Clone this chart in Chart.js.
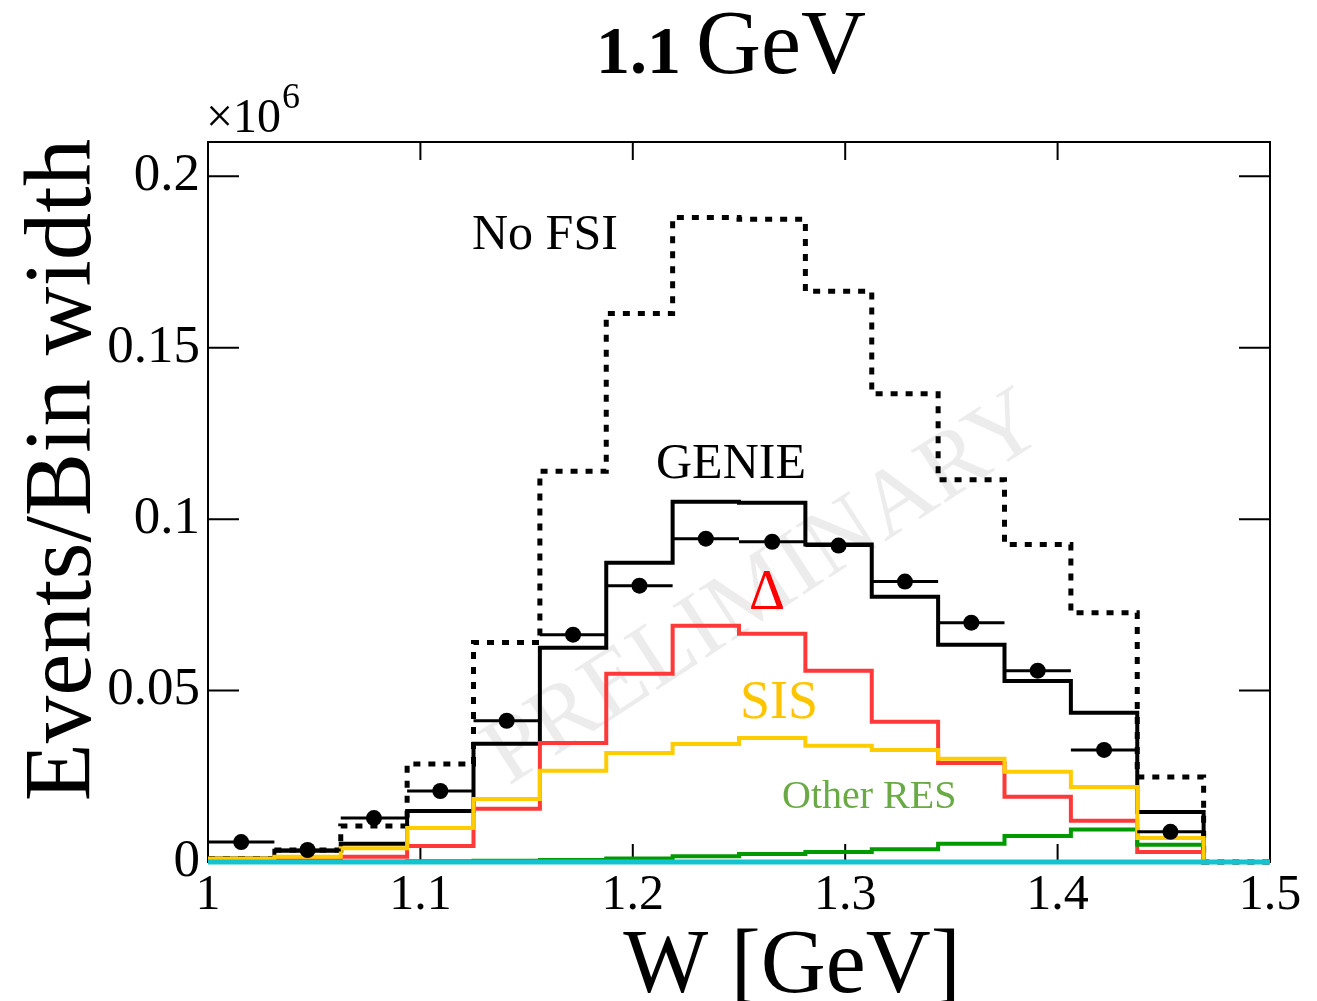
<!DOCTYPE html>
<html>
<head>
<meta charset="utf-8">
<title>W distribution, 1.1 GeV</title>
<script src="https://cdn.jsdelivr.net/npm/chart.js@4.4.1/dist/chart.umd.min.js"></script>
<style>
  html, body { margin: 0; padding: 0; background: #fff; }
  #wrap { width: 1317px; height: 1001px; }
</style>
</head>
<body>
<div id="wrap"><canvas id="wChart" width="1317" height="1001"></canvas></div>
<script>
// Bin edges, W [GeV]
const binEdges = [1.0, 1.03125, 1.0625, 1.09375, 1.125, 1.15625, 1.1875, 1.21875, 1.25,
  1.28125, 1.3125, 1.34375, 1.375, 1.40625, 1.4375, 1.46875, 1.5];

// Events / bin width (x10^6), one value per bin
const noFsi    = [0.001, 0.0035, 0.0105, 0.0286, 0.064, 0.114, 0.160, 0.188, 0.1875, 0.1665, 0.1366, 0.1115, 0.0926, 0.0727, 0.0248, 0];
const genie    = [0.001, 0.0033, 0.0053, 0.0149, 0.0345, 0.0625, 0.0873, 0.1051, 0.1048, 0.0926, 0.0774, 0.0634, 0.0528, 0.0435, 0.0146, 0];
const delta    = [0.0002, 0.0005, 0.0015, 0.0047, 0.0155, 0.0347, 0.0549, 0.0689, 0.0666, 0.0558, 0.0409, 0.0289, 0.0190, 0.0120, 0.0029, 0];
const sis      = [0.001, 0.0015, 0.004, 0.0099, 0.0184, 0.0266, 0.0318, 0.0344, 0.0362, 0.0339, 0.0327, 0.0301, 0.0263, 0.0219, 0.0070, 0];
const otherRes = [0, 0.0001, 0.0001, 0.0002, 0.0004, 0.0006, 0.001, 0.0017, 0.0023, 0.0029, 0.0037, 0.0053, 0.0076, 0.0095, 0.005, 0];
const otherBg  = [0, 0, 0, 0, 0, 0, 0, 0, 0, 0, 0, 0, 0, 0, 0, 0];
// measured points (first 15 bins)
const dataPts  = [0.0058, 0.0035, 0.0128, 0.0207, 0.0412, 0.0663, 0.0806, 0.0943, 0.0934, 0.0923, 0.0818, 0.0698, 0.0558, 0.0327, 0.0088];

const xTicks = [1, 1.1, 1.2, 1.3, 1.4, 1.5];
const yTicks = [0, 0.05, 0.1, 0.15, 0.2];

const SERIF = "'Liberation Serif', 'DejaVu Serif', serif";

function stepPoints(values) {
  const pts = values.map((v, i) => ({ x: binEdges[i], y: v }));
  pts.push({ x: binEdges[values.length], y: values[values.length - 1] });
  return pts;
}

// "before" in chart.js = horizontal first, then the vertical step
function histo(values, color, order, width, dash) {
  return {
    type: "line",
    data: stepPoints(values),
    stepped: "before",
    borderColor: color,
    borderWidth: width,
    borderDash: dash || [],
    borderCapStyle: "butt",
    pointRadius: 0,
    fill: false,
    clip: 6,
    order: order
  };
}

// Frame, inward ticks and the watermark, behind the histograms
const framePlugin = {
  id: "frame",
  beforeDatasetsDraw(chart) {
    const { ctx, chartArea: a, scales: { x, y } } = chart;
    ctx.save();
    ctx.fillStyle = "rgba(0,0,0,0.075)";
    ctx.font = "95px " + SERIF;
    ctx.textAlign = "center";
    ctx.textBaseline = "middle";
    ctx.translate(765, 590);
    ctx.rotate(-33 * Math.PI / 180);
    ctx.fillText("PRELIMINARY", 0, 0);
    ctx.restore();

    ctx.save();
    ctx.strokeStyle = "#000";
    ctx.lineWidth = 2;
    ctx.strokeRect(a.left, a.top, a.right - a.left, a.bottom - a.top);
    ctx.beginPath();
    xTicks.forEach(v => {
      const px = x.getPixelForValue(v);
      ctx.moveTo(px, a.bottom); ctx.lineTo(px, a.bottom - 18);
      ctx.moveTo(px, a.top); ctx.lineTo(px, a.top + 18);
    });
    yTicks.forEach(v => {
      const py = y.getPixelForValue(v);
      ctx.moveTo(a.left, py); ctx.lineTo(a.left + 31, py);
      ctx.moveTo(a.right, py); ctx.lineTo(a.right - 31, py);
    });
    ctx.stroke();
    ctx.restore();
  }
};

// Horizontal error bars of the data points (bin width)
const errorBarPlugin = {
  id: "errorBars",
  afterDatasetsDraw(chart) {
    const { ctx, scales: { x, y } } = chart;
    ctx.save();
    ctx.strokeStyle = "#000";
    ctx.lineWidth = 3;
    ctx.beginPath();
    dataPts.forEach((v, i) => {
      const py = y.getPixelForValue(v);
      ctx.moveTo(x.getPixelForValue(binEdges[i]), py);
      ctx.lineTo(x.getPixelForValue(binEdges[i + 1]), py);
    });
    ctx.stroke();
    ctx.restore();
  }
};

// Titles and labels
const textPlugin = {
  id: "texts",
  afterDraw(chart) {
    const ctx = chart.ctx;
    ctx.save();
    ctx.fillStyle = "#000";
    ctx.textBaseline = "alphabetic";
    ctx.textAlign = "left";

    ctx.font = "bold 68px " + SERIF;
    ctx.fillText("1.1", 596, 73);
    ctx.font = "90px " + SERIF;
    ctx.fillText("GeV", 696, 73);

    ctx.font = "48px " + SERIF;
    ctx.fillText("\u00d710", 206, 132);
    ctx.font = "36px " + SERIF;
    ctx.fillText("6", 282, 108);

    ctx.textAlign = "center";
    ctx.font = "90px " + SERIF;
    ctx.fillText("W [GeV]", 792, 992);

    ctx.save();
    ctx.translate(90, 470);
    ctx.rotate(-Math.PI / 2);
    ctx.font = "95px " + SERIF;
    ctx.fillText("Events/Bin width", 0, 0);
    ctx.restore();

    ctx.textAlign = "left";
    ctx.font = "50px " + SERIF;
    ctx.fillText("No FSI", 472, 249);
    ctx.fillText("GENIE", 656, 478);

    ctx.fillStyle = "#ff0000";
    ctx.font = "56px " + SERIF;
    ctx.textAlign = "center";
    ctx.fillText("\u0394", 767, 609);

    ctx.textAlign = "left";
    ctx.fillStyle = "#ffc400";
    ctx.font = "54px " + SERIF;
    ctx.fillText("SIS", 740, 718);

    ctx.fillStyle = "#6aaa44";
    ctx.font = "40px " + SERIF;
    ctx.fillText("Other RES", 782, 808);
    ctx.restore();
  }
};

const binCenters = dataPts.map((v, i) => (binEdges[i] + binEdges[i + 1]) / 2);

new Chart(document.getElementById("wChart"), {
  data: {
    datasets: [
      {
        type: "scatter",
        data: dataPts.map((v, i) => ({ x: binCenters[i], y: v })),
        pointRadius: 8,
        pointBackgroundColor: "#000",
        pointBorderWidth: 0,
        order: 0
      },
      histo(otherBg, "#14c3d0", 1, 5),
      histo(sis, "#ffcc00", 2, 4),
      histo(otherRes, "#009a00", 3, 4),
      histo(delta, "#ff3838", 4, 4),
      histo(genie, "#000000", 5, 4),
      histo(noFsi, "#000000", 6, 5, [7, 8])
    ]
  },
  options: {
    responsive: false,
    animation: false,
    devicePixelRatio: 1,
    layout: { padding: { top: 142, right: 47, left: 0, bottom: 0 } },
    plugins: { legend: { display: false }, tooltip: { enabled: false } },
    scales: {
      x: {
        type: "linear",
        min: 1,
        max: 1.5,
        grid: { display: false, drawTicks: false },
        border: { display: false },
        ticks: {
          color: "#000",
          font: { family: SERIF, size: 50 },
          padding: 4,
          maxRotation: 0,
          autoSkip: false,
          callback: v => String(v)
        },
        afterBuildTicks: s => { s.ticks = xTicks.map(v => ({ value: v })); },
        afterFit: s => { s.height = 139; }
      },
      y: {
        type: "linear",
        min: 0,
        max: 0.21,
        grid: { display: false, drawTicks: false },
        border: { display: false },
        ticks: {
          color: "#000",
          font: { family: SERIF, size: 53 },
          padding: 8,
          autoSkip: false,
          callback: v => String(v)
        },
        afterBuildTicks: s => { s.ticks = yTicks.map(v => ({ value: v })); },
        afterFit: s => { s.width = 208; }
      }
    }
  },
  plugins: [framePlugin, errorBarPlugin, textPlugin]
});
</script>
</body>
</html>
